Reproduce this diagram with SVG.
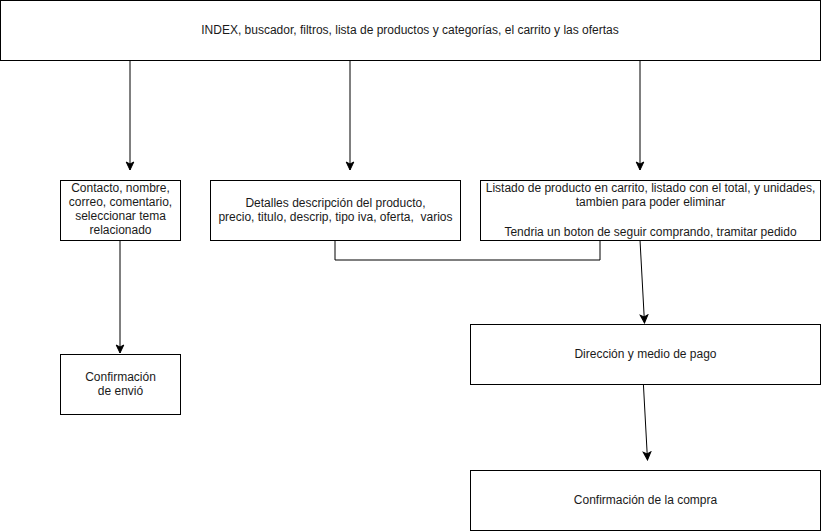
<svg xmlns="http://www.w3.org/2000/svg" width="821" height="531" viewBox="0 0 821 531">
<style>
.box{fill:#fff;stroke:#000;stroke-width:1}
.t{font-family:"Liberation Sans",Arial,sans-serif;font-size:12px;fill:#1a1a1a;text-anchor:middle;white-space:pre}
.c{fill:none;stroke:#000;stroke-width:1}
</style>
<defs>
<marker id="ah" markerWidth="10" markerHeight="10" viewBox="0 0 10 10" refX="9" refY="5" orient="auto" markerUnits="userSpaceOnUse">
<path d="M1,1.2 L9,5 L1,8.8 L3,5 Z" fill="#000" stroke="#000" stroke-width="1"/>
</marker>
</defs>
<rect width="821" height="531" fill="#fff"/>
<g id="connectors">
<line class="c" x1="130" y1="60" x2="130" y2="170" marker-end="url(#ah)"/>
<line class="c" x1="350" y1="60" x2="350" y2="170" marker-end="url(#ah)"/>
<line class="c" x1="640" y1="60" x2="640" y2="170" marker-end="url(#ah)"/>
<polyline class="c" points="335,240 335,260 600,260 600,240"/>
<line class="c" x1="120" y1="240" x2="120" y2="353" marker-end="url(#ah)"/>
<line class="c" x1="640" y1="240" x2="644.5" y2="323" marker-end="url(#ah)"/>
<line class="c" x1="643" y1="377" x2="647.5" y2="460" marker-end="url(#ah)"/>
</g>
<g id="index">
<rect class="box" x="0.5" y="0.5" width="820" height="60"/>
<text class="t" x="410" y="34">INDEX, buscador, filtros, lista de productos y categorías, el carrito y las ofertas</text>
</g>
<g id="contacto">
<rect class="box" x="60.5" y="180.5" width="120" height="60"/>
<text class="t" x="120.5" y="192">Contacto, nombre,</text>
<text class="t" x="120.5" y="206">correo, comentario,</text>
<text class="t" x="120.5" y="220">seleccionar tema</text>
<text class="t" x="120.5" y="234">relacionado</text>
</g>
<g id="detalles">
<rect class="box" x="210.5" y="180.5" width="250" height="60"/>
<text class="t" x="335.5" y="207">Detalles descripción del producto,</text>
<text class="t" x="335.5" y="221" xml:space="preserve">precio, titulo, descrip, tipo iva, oferta,  varios</text>
</g>
<g id="carrito">
<rect class="box" x="480.5" y="180.5" width="340" height="60"/>
<text class="t" x="650.5" y="192">Listado de producto en carrito, listado con el total, y unidades,</text>
<text class="t" x="650.5" y="206">tambien para poder eliminar</text>
<text class="t" x="650.5" y="236">Tendria un boton de seguir comprando, tramitar pedido</text>
</g>
<g id="envio">
<rect class="box" x="60.5" y="354.5" width="120" height="60"/>
<text class="t" x="120.5" y="381">Confirmación</text>
<text class="t" x="120.5" y="395">de envió</text>
</g>
<g id="direccion">
<rect class="box" x="470.5" y="324.5" width="350" height="60"/>
<text class="t" x="645.5" y="358">Dirección y medio de pago</text>
</g>
<g id="compra">
<rect class="box" x="470.5" y="470.5" width="350" height="60"/>
<text class="t" x="645.5" y="504">Confirmación de la compra</text>
</g>
</svg>
